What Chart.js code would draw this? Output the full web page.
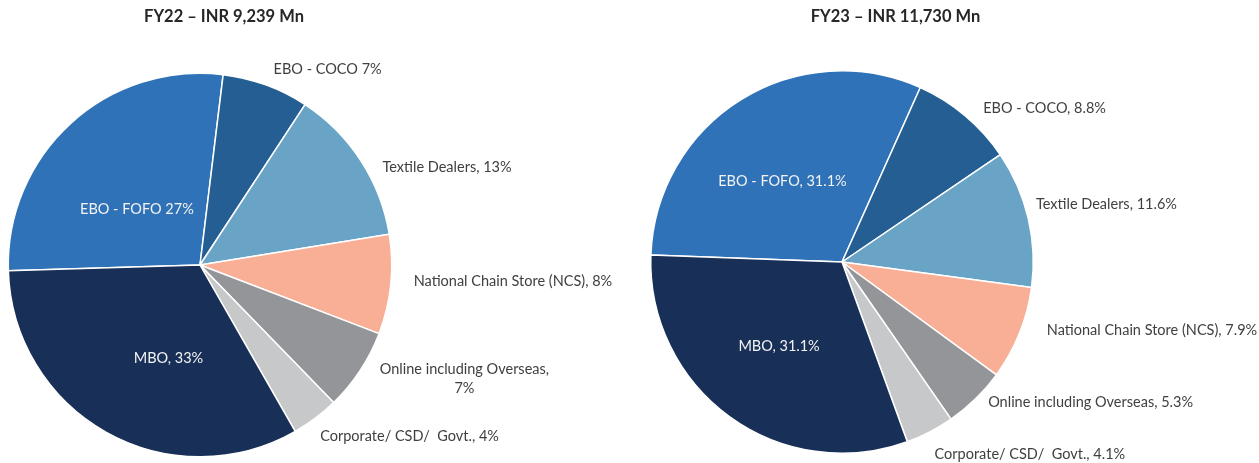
<!DOCTYPE html>
<html>
<head>
<meta charset="utf-8">
<script src="https://cdn.jsdelivr.net/npm/chart.js@4"></script>
<style>
  body { margin: 0; background: #fff; }
  #wrap { position: relative; width: 1259px; height: 463px; }
  canvas { position: absolute; top: 0; }
</style>
</head>
<body>
<div id="wrap">
  <canvas id="fy22" width="630" height="463" style="left:0"></canvas>
  <canvas id="fy23" width="629" height="463" style="left:630px"></canvas>
</div>
<script>
// channel mix, same order for both years
const categories = ["EBO - FOFO", "EBO - COCO", "Textile Dealers", "National Chain Store (NCS)",
  "Online including Overseas", "Corporate/ CSD/  Govt.", "MBO"];
const colors = ["#2F72B8", "#245E93", "#69A3C6", "#F8AF96", "#949599", "#C7C8CA", "#182F57"];

// shares in % (FY22, FY23 as labelled)
const fy22Share = [27.4, 7.3, 13.2, 8.4, 6.9, 4.0, 32.8];
const fy23Share = [31.1, 8.8, 11.6, 7.9, 5.3, 4.1, 31.1];

const fy22Text = ["EBO - FOFO 27%", "EBO - COCO 7%", "Textile Dealers, 13%", "National Chain Store (NCS), 8%",
  ["Online including Overseas,", "7%"], "Corporate/ CSD/  Govt., 4%", "MBO, 33%"];
const fy23Text = ["EBO - FOFO, 31.1%", "EBO - COCO, 8.8%", "Textile Dealers, 11.6%", "National Chain Store (NCS), 7.9%",
  "Online including Overseas, 5.3%", "Corporate/ CSD/  Govt., 4.1%", "MBO, 31.1%"];

const inside = [true, false, false, false, false, false, true];

// label nudges from the default anchor (layout only)
const fy22Nudge = [[8, 22], [5, -8], [15, 11], [15, -4], [13, 4], [0, 12], [20, 1]];
const fy23Nudge = [[-4, 9], [13, -1], [0, -12], [20, -6], [7, -2], [1, 15], [-1, -1]];

const sliceLabels = {
  id: "sliceLabels",
  afterDatasetsDraw(chart, args, opts) {
    const ctx = chart.ctx;
    const arcs = chart.getDatasetMeta(0).data;
    ctx.save();
    ctx.font = "14.5px Lato";
    ctx.textBaseline = "middle";
    let cx = 0;
    arcs.forEach((arc, i) => {
      const p = arc.getProps(["x", "y", "startAngle", "endAngle", "outerRadius"], true);
      cx = p.x;
      const mid = (p.startAngle + p.endAngle) / 2;
      const r = inside[i] ? p.outerRadius * 0.55 : p.outerRadius + 8;
      const ax = p.x + r * Math.cos(mid) + opts.nudge[i][0];
      const ay = p.y + r * Math.sin(mid) + opts.nudge[i][1];
      const text = opts.texts[i];
      if (inside[i]) {
        ctx.fillStyle = "#F2F2F2";
        ctx.textAlign = "center";
        ctx.fillText(text, ax, ay);
      } else if (Array.isArray(text)) {
        ctx.fillStyle = "#404040";
        ctx.textAlign = "center";
        const w = Math.max(...text.map(t => ctx.measureText(t).width));
        const lh = 19;
        text.forEach((t, k) => {
          ctx.fillText(t, ax + w / 2, ay + (k - (text.length - 1) / 2) * lh);
        });
      } else {
        ctx.fillStyle = "#404040";
        ctx.textAlign = "left";
        ctx.fillText(text, ax, ay);
      }
    });
    // chart title
    ctx.font = "bold 16.5px Lato";
    ctx.fillStyle = "#262626";
    ctx.textAlign = "center";
    ctx.fillText(opts.title, cx + opts.titleDx, 17);
    ctx.restore();
  }
};

function makePie(id, share, texts, nudge, rotation, padding, title, titleDx) {
  return new Chart(document.getElementById(id), {
    type: "pie",
    data: {
      labels: categories,
      datasets: [{
        data: share,
        backgroundColor: colors,
        borderColor: "#FFFFFF",
        borderWidth: 1.5
      }]
    },
    options: {
      responsive: false,
      animation: false,
      rotation: rotation,
      layout: { padding: padding },
      plugins: {
        legend: { display: false },
        tooltip: { enabled: false },
        sliceLabels: { texts: texts, nudge: nudge, title: title, titleDx: titleDx }
      }
    },
    plugins: [sliceLabels]
  });
}

makePie("fy22", fy22Share, fy22Text, fy22Nudge, 268.3,
  { left: 7.5, right: 237.5, top: 72.5, bottom: 5.5 }, "FY22 \u2013 INR 9,239 Mn", 24);
makePie("fy23", fy23Share, fy23Text, fy23Nudge, 272.1,
  { left: 20, right: 225, top: 70, bottom: 9 }, "FY23 \u2013 INR 11,730 Mn", 53.5);
</script>
</body>
</html>
